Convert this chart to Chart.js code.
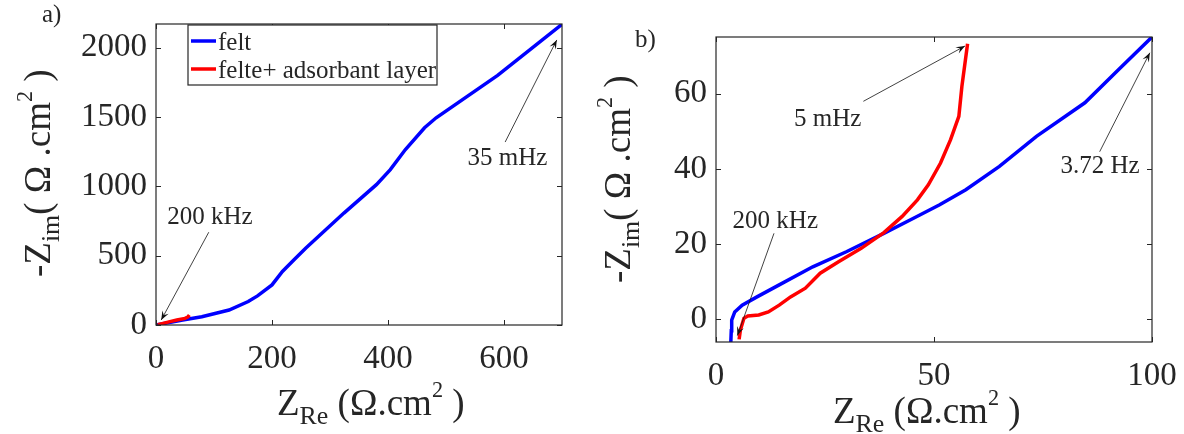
<!DOCTYPE html>
<html>
<head>
<meta charset="utf-8">
<script src="https://cdn.jsdelivr.net/npm/chart.js@4.4.1/dist/chart.umd.min.js"></script>
<style>
  html, body { margin: 0; padding: 0; background: #fff; }
  #wrap { position: relative; width: 1184px; height: 434px; }
  .panel { position: absolute; top: 0; width: 592px; height: 434px; }
</style>
</head>
<body>
<div id="wrap">
  <div class="panel" style="left:0"><canvas id="chartA" width="592" height="434"></canvas></div>
  <div class="panel" style="left:592px"><canvas id="chartB" width="592" height="434"></canvas></div>
</div>
<script>
const FONT = "'Liberation Serif', 'Times New Roman', serif";
const INK = '#262626';

const seriesLabels = ['felt', 'felte+ adsorbant layer'];

// panel a) full spectrum
const feltAX = [0, 46, 79, 126, 159, 175, 200, 218, 238, 258, 324, 380, 404, 430, 463, 483, 589, 700];
const feltAY = [0, 36, 60, 108, 169, 210, 289, 386, 470, 554, 807, 1012, 1120, 1265, 1422, 1494, 1800, 2168];
const layerAX = [3, 12, 24, 36, 50, 55, 57.5];
const layerAY = [3, 12, 24, 36, 48, 58, 72];
const ticksAX = [0, 200, 400, 600];
const ticksAY = [0, 500, 1000, 1500, 2000];

// panel b) zoom on high frequencies
const feltBX = [3.4, 3.5, 3.6, 4.3, 6.0, 9.4, 14.5, 22.2, 29.9, 38.5, 45.3, 51.3, 57.3, 65.0, 73.5, 84.6, 92.3, 100];
const feltBY = [-6, -3, -0.2, 2.0, 3.8, 6.0, 9.2, 14.0, 18.0, 22.9, 26.9, 30.5, 34.5, 40.7, 48.7, 57.6, 66.4, 75.1];
const layerBX = [5.3, 5.6, 6.4, 7.3, 9.8, 12.0, 14.5, 17.1, 20.5, 23.9, 28.2, 33.3, 38.5, 42.7, 46.2, 48.7, 51.5, 53.8, 55.7, 56.4, 57.7];
const layerBY = [-5.3, -2.8, 0.3, 0.9, 1.2, 2.0, 3.8, 6.0, 8.3, 12.3, 15.4, 18.9, 23.1, 27.4, 31.8, 35.8, 41.6, 47.8, 54.0, 62.0, 73.3];
const ticksBX = [0, 50, 100];
const ticksBY = [0, 20, 40, 60];

const titleX = [{t: 'Z'}, {t: 'Re', k: 0.7, dy: 0.25}, {t: ' (\u03A9.cm'}, {t: '2', k: 0.6, dy: -0.48}, {t: ' )'}];
const titleY = [{t: '-Z'}, {t: 'im', k: 0.7, dy: 0.25}, {t: '( \u03A9 .cm'}, {t: '2', k: 0.6, dy: -0.48}, {t: ' )'}];

function pts(xs, ys) {
  return xs.map((x, i) => ({x: x, y: ys[i]}));
}

// draws text with sub/superscripts, left aligned on baseline
function drawRich(ctx, segs, x, y, size) {
  let cx = x;
  segs.forEach(s => {
    ctx.font = (size * (s.k || 1)) + 'px ' + FONT;
    ctx.fillText(s.t, cx, y + (s.dy || 0) * size);
    cx += ctx.measureText(s.t).width;
  });
}

function arrow(ctx, x0, y0, x1, y1) {
  ctx.beginPath();
  ctx.moveTo(x0, y0);
  ctx.lineTo(x1, y1);
  ctx.lineWidth = 0.8;
  ctx.stroke();
  const a = Math.atan2(y1 - y0, x1 - x0), L = 9, W = 3.5;
  const c = Math.cos(a), s = Math.sin(a);
  ctx.beginPath();
  ctx.moveTo(x1, y1);
  ctx.lineTo(x1 - L * c + W * s, y1 - L * s - W * c);
  ctx.lineTo(x1 - 0.6 * L * c, y1 - 0.6 * L * s);
  ctx.lineTo(x1 - L * c - W * s, y1 - L * s + W * c);
  ctx.closePath();
  ctx.fill();
}

// box, inward ticks, axis titles, notes and legend in the matlab look
const matlabAxes = {
  id: 'matlabAxes',
  afterDraw(chart, args, o) {
    const {ctx, chartArea: a, scales: {x, y}} = chart;
    ctx.save();
    ctx.strokeStyle = INK;
    ctx.fillStyle = INK;

    ctx.lineWidth = 1;
    ctx.beginPath();
    x.ticks.forEach(t => {
      const px = Math.round(x.getPixelForValue(t.value)) + 0.5;
      ctx.moveTo(px, a.bottom); ctx.lineTo(px, a.bottom - 5);
      ctx.moveTo(px, a.top); ctx.lineTo(px, a.top + 5);
    });
    y.ticks.forEach(t => {
      const py = Math.round(y.getPixelForValue(t.value)) + 0.5;
      ctx.moveTo(a.left, py); ctx.lineTo(a.left + 5, py);
      ctx.moveTo(a.right, py); ctx.lineTo(a.right - 5, py);
    });
    ctx.stroke();
    ctx.lineWidth = 1.2;
    ctx.strokeRect(a.left, a.top, a.right - a.left, a.bottom - a.top);

    ctx.textAlign = 'left';
    ctx.textBaseline = 'alphabetic';
    drawRich(ctx, titleX, o.xTitle[0], o.xTitle[1], 37);
    ctx.save();
    ctx.translate(o.yTitle[0], o.yTitle[1]);
    ctx.rotate(-Math.PI / 2);
    drawRich(ctx, titleY, 0, 0, 37);
    ctx.restore();

    ctx.font = '25px ' + FONT;
    ctx.fillText(o.tag[0], o.tag[1], o.tag[2]);

    o.notes.forEach(n => {
      ctx.strokeStyle = '#111';
      ctx.fillStyle = '#111';
      arrow(ctx, x.getPixelForValue(n.from[0]), y.getPixelForValue(n.from[1]),
        x.getPixelForValue(n.to[0]), y.getPixelForValue(n.to[1]));
      ctx.fillStyle = INK;
      ctx.font = '25px ' + FONT;
      ctx.textAlign = 'center';
      ctx.fillText(n.text, x.getPixelForValue(n.at[0]), y.getPixelForValue(n.at[1]));
      ctx.textAlign = 'left';
    });

    if (o.legend) {
      const L = o.legend;
      ctx.fillStyle = '#fff';
      ctx.fillRect(L.x, L.y, L.w, L.h);
      ctx.strokeStyle = INK;
      ctx.lineWidth = 1.2;
      ctx.strokeRect(L.x, L.y, L.w, L.h);
      ctx.font = '25px ' + FONT;
      chart.data.datasets.forEach((ds, i) => {
        const ly = L.y + 16 + i * 28;
        ctx.strokeStyle = ds.borderColor;
        ctx.lineWidth = 3.5;
        ctx.beginPath();
        ctx.moveTo(L.x + 3, ly);
        ctx.lineTo(L.x + 28, ly);
        ctx.stroke();
        ctx.fillStyle = INK;
        ctx.fillText(ds.label, L.x + 30, ly + 9);
      });
    }
    ctx.restore();
  }
};

function makeChart(id, p) {
  const tickFont = {family: FONT, size: 33};
  const plain = v => String(v);
  return new Chart(document.getElementById(id), {
    type: 'scatter',
    data: {
      datasets: [
        {label: seriesLabels[0], data: p.felt, borderColor: '#0000ff', borderWidth: 3.5, showLine: true, pointRadius: 0, order: 1},
        {label: seriesLabels[1], data: p.layer, borderColor: '#ff0000', borderWidth: 3.5, showLine: true, pointRadius: 0, order: 0}
      ]
    },
    options: {
      responsive: false,
      animation: false,
      events: [],
      layout: {padding: {left: 0, top: p.area.top, right: 592 - p.area.right, bottom: 0}},
      scales: {
        x: {
          type: 'linear', min: p.xr[0], max: p.xr[1],
          grid: {display: false, drawTicks: false}, border: {display: false},
          ticks: {font: tickFont, color: INK, padding: 15, maxRotation: 0, callback: plain},
          afterBuildTicks: s => { s.ticks = p.xt.map(v => ({value: v})); },
          afterFit: s => { s.height = 434 - p.area.bottom; s.paddingLeft = 0; s.paddingRight = 0; }
        },
        y: {
          type: 'linear', min: p.yr[0], max: p.yr[1],
          grid: {display: false, drawTicks: false}, border: {display: false},
          ticks: {font: tickFont, color: INK, padding: 9, callback: plain},
          afterBuildTicks: s => { s.ticks = p.yt.map(v => ({value: v})); },
          afterFit: s => { s.width = p.area.left; s.paddingTop = 0; s.paddingBottom = 0; }
        }
      },
      plugins: {
        legend: {display: false},
        tooltip: {enabled: false},
        matlabAxes: p.deco
      }
    },
    plugins: [matlabAxes]
  });
}

makeChart('chartA', {
  felt: pts(feltAX, feltAY),
  layer: pts(layerAX, layerAY),
  xr: [0, 700], yr: [0, 2170], xt: ticksAX, yt: ticksAY,
  area: {left: 156, right: 562, top: 24, bottom: 325},
  deco: {
    xTitle: [277, 415], yTitle: [50, 277], tag: ['a)', 42, 22],
    legend: {x: 188, y: 25, w: 249, h: 60},
    notes: [
      {text: '200 kHz', at: [93, 727], from: [91, 669], to: [9, 36]},
      {text: '35 mHz', at: [606, 1151], from: [602, 1319], to: [691, 2055]}
    ]
  }
});

makeChart('chartB', {
  felt: pts(feltBX, feltBY),
  layer: pts(layerBX, layerBY),
  xr: [0, 100], yr: [-6, 75.1], xt: ticksBX, yt: ticksBY,
  area: {left: 124, right: 560, top: 37, bottom: 342},
  deco: {
    xTitle: [241, 423], yTitle: [38, 283], tag: ['b)', 43, 47],
    notes: [
      {text: '5 mHz', at: [25.6, 51.5], from: [33.8, 58.0], to: [57.1, 72.7]},
      {text: '3.72 Hz', at: [88.1, 38.9], from: [88.0, 44.6], to: [99.5, 70.9]},
      {text: '200 kHz', at: [13.6, 24.3], from: [13.3, 22.9], to: [4.9, -4.3]}
    ]
  }
});
</script>
</body>
</html>
